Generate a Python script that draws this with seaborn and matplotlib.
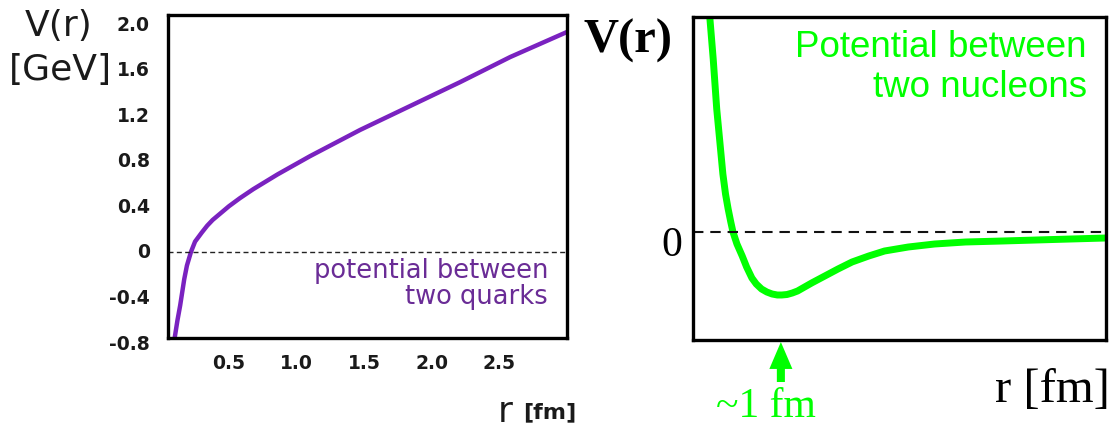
import matplotlib
matplotlib.use("Agg")
import matplotlib.pyplot as plt
import seaborn as sns
import pandas as pd

# ---- data ----
r_quark = [0.095, 0.10, 0.12, 0.14, 0.17, 0.19, 0.22, 0.25, 0.30, 0.34, 0.38, 0.43, 0.50, 0.58,
           0.68, 0.86, 1.10, 1.47, 1.84, 2.21, 2.58, 3.00]
V_quark = [-0.80, -0.75, -0.60, -0.47, -0.24, -0.12, 0.0, 0.09, 0.17, 0.23, 0.28, 0.33, 0.40, 0.47,
           0.55, 0.68, 0.84, 1.07, 1.28, 1.49, 1.71, 1.93]
quark_yticks = [2.0, 1.6, 1.2, 0.8, 0.4, 0, -0.4, -0.8]
quark_ytick_labels = ["2.0", "1.6", "1.2", "0.8", "0.4", "0", "-0.4", "-0.8"]
quark_xticks = [0.5, 1.0, 1.5, 2.0, 2.5]
quark_xtick_labels = ["0.5", "1.0", "1.5", "2.0", "2.5"]

r_nucl = [0.185, 0.19, 0.23, 0.27, 0.31, 0.34, 0.37, 0.40, 0.43, 0.455, 0.50, 0.56, 0.61, 0.67,
          0.72, 0.78, 0.84, 0.90, 0.96, 1.01, 1.07, 1.13, 1.19, 1.25, 1.35, 1.50, 1.65, 1.81,
          2.00, 2.18, 2.45, 2.75, 3.10, 3.52, 4.10, 4.70]
V_nucl = [235, 216, 173, 123, 86, 58, 38, 23, 10, 0, -12, -24, -35, -46,
          -52, -57, -60, -62, -63, -63, -62.5, -61, -59, -56, -51, -44, -37, -30,
          -24, -19, -15, -12, -10, -9, -7.5, -6]
nucl_min_r = 1.0

sns.set_theme(style="white")
plt.rcParams["font.family"] = ["DejaVu Sans"]

W, H = 1116, 427
fig = plt.figure(figsize=(W / 100, H / 100), dpi=100)
axL = fig.add_axes([168 / W, 1 - 339 / H, 399 / W, 323 / H])
axR = fig.add_axes([693 / W, 1 - 341 / H, 413 / W, 323 / H])

purple = "#7a22c0"
purple_txt = "#6a2c96"
green = "#00ff00"

# ---------------- left panel ----------------
dq = pd.DataFrame({"r": r_quark, "V": V_quark})
sns.lineplot(data=dq, x="r", y="V", ax=axL, color=purple, lw=3.2, sort=False,
             solid_joinstyle="round", solid_capstyle="round")
axL.axhline(0, color="#222222", lw=1.0, dashes=(3.6, 2.4))
axL.set_xlim(0.05, 3.0)
axL.set_ylim(-0.756, 2.079)
axL.set_xlabel("")
axL.set_ylabel("")
axL.set_xticks(quark_xticks)
axL.set_xticklabels(quark_xtick_labels, fontsize=13.5, fontweight="bold", color="#1a1a1a")
axL.set_yticks([])
axL.tick_params(axis="x", length=0, pad=11)
for v, lab in zip(quark_yticks, quark_ytick_labels):
    axL.text(-(168 - 150) / 399, v, lab, transform=axL.get_yaxis_transform(),
             ha="right", va="center", fontsize=13.5, fontweight="bold",
             color="#1a1a1a", clip_on=False)
for s in axL.spines.values():
    s.set_color("black")
    s.set_linewidth(2.4)
axL.text(2.86, -0.22, "potential between", ha="right", va="baseline",
         fontsize=18.5, color=purple_txt)
axL.text(2.86, -0.447, "two quarks", ha="right", va="baseline",
         fontsize=18.5, color=purple_txt)

fig.text(59 / W, 1 - 36 / H, "V(r)", ha="center", va="baseline", fontsize=26, color="#1a1a1a")
fig.text(60 / W, 1 - 80 / H, "[GeV]", ha="center", va="baseline", fontsize=26, color="#1a1a1a")
fig.text(505 / W, 1 - 422 / H, "r", ha="center", va="baseline", fontsize=26, color="#1a1a1a")
fig.text(550 / W, 1 - 418 / H, "[fm]", ha="center", va="baseline", fontsize=16,
         fontweight="bold", color="#1a1a1a")

# ---------------- right panel ----------------
dn = pd.DataFrame({"r": r_nucl, "V": V_nucl})
sns.lineplot(data=dn, x="r", y="V", ax=axR, color=green, lw=5.0, sort=False,
             solid_joinstyle="round", solid_capstyle="round")
axR.axhline(0, color="#111111", lw=1.5, dashes=(5, 3.3))
axR.set_xlim(0, 4.7)
axR.set_ylim(-108, 215)
axR.set_xlabel("")
axR.set_ylabel("")
axR.set_xticks([])
axR.set_yticks([])
for s in axR.spines.values():
    s.set_color("black")
    s.set_linewidth(2.4)

serif = ["Liberation Serif", "DejaVu Serif"]
axR.text(-(693 - 682) / 413, -23, "0", transform=axR.get_yaxis_transform(),
         ha="right", va="baseline", fontsize=30, family=serif, color="black", clip_on=False)
axR.text(4.48, 176, "Potential between", ha="right", va="baseline",
         fontsize=26.5, family=["Liberation Sans", "DejaVu Sans"], color=green)
axR.text(4.48, 136, "two nucleons", ha="right", va="baseline",
         fontsize=26.5, family=["Liberation Sans", "DejaVu Sans"], color=green)

axR.annotate("", xy=(nucl_min_r, -110), xytext=(nucl_min_r, -150),
             xycoords="data", textcoords="data", annotation_clip=False,
             arrowprops=dict(arrowstyle="simple,head_length=0.97,head_width=0.83,tail_width=0.29",
                             fc=green, ec="none", lw=0, shrinkA=0, shrinkB=0,
                             mutation_scale=20))

fig.text(628 / W, 1 - 53 / H, "V(r)", ha="center", va="baseline", fontsize=35,
         fontweight="bold", family=serif, color="black")
fig.text(1110 / W, 1 - 402 / H, "r [fm]", ha="right", va="baseline", fontsize=35,
         family=serif, color="black")
fig.text(766 / W, 1 - 417 / H, "~1 fm", ha="center", va="baseline", fontsize=30,
         family=serif, color=green)

fig.savefig("out.png", dpi=100, facecolor="white")
